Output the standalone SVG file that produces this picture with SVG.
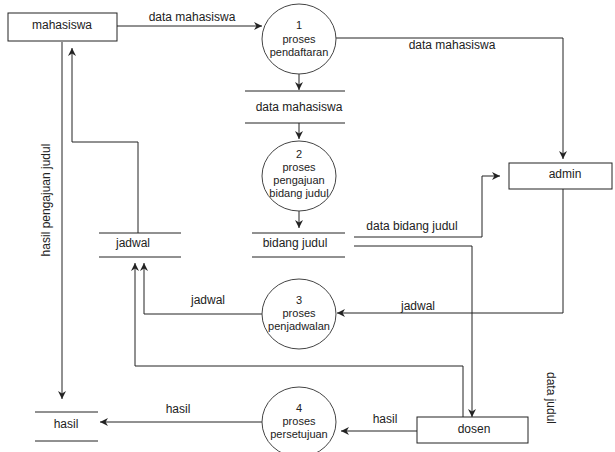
<svg xmlns="http://www.w3.org/2000/svg" width="615" height="452" viewBox="0 0 615 452">
<style>
text{font-family:"Liberation Sans",Arial,sans-serif;font-size:12px;fill:#222;text-anchor:middle}
.pt{font-size:11px}
.ln{fill:none;stroke:#222;stroke-width:1}
.box{fill:#fff;stroke:#222;stroke-width:1}
.proc{fill:#fff;stroke:#444;stroke-width:1}
.st{stroke:#222;stroke-width:1}
</style>
<defs>
<marker id="ah" viewBox="0 0 10 10" refX="10" refY="5" markerWidth="8" markerHeight="8" markerUnits="userSpaceOnUse" orient="auto">
<path d="M0,0 L10,5 L0,10 L3,5 Z" fill="#222"/>
</marker>
</defs>
<rect width="615" height="452" fill="#fff"/>
<g id="connectors">
<path class="ln" d="M117,26 H262" marker-end="url(#ah)"/>
<path class="ln" d="M299,74 V90" marker-end="url(#ah)"/>
<path class="ln" d="M299,123 V139" marker-end="url(#ah)"/>
<path class="ln" d="M299,211 V228" marker-end="url(#ah)"/>
<path class="ln" d="M336,38 H563 V159" marker-end="url(#ah)"/>
<path class="ln" d="M354,237 H482 V176 H500" marker-end="url(#ah)"/>
<path class="ln" d="M354,246 H472 V417" marker-end="url(#ah)"/>
<path class="ln" d="M563,189 V313 H337" marker-end="url(#ah)"/>
<path class="ln" d="M262,314 H144 V263" marker-end="url(#ah)"/>
<path class="ln" d="M463,417 V366 H135 V263" marker-end="url(#ah)"/>
<path class="ln" d="M138,233 V142 H72 V48" marker-end="url(#ah)"/>
<path class="ln" d="M62,42 V399" marker-end="url(#ah)"/>
<path class="ln" d="M417,431 H341" marker-end="url(#ah)"/>
<path class="ln" d="M262,422 H100" marker-end="url(#ah)"/>
<text x="192" y="21">data mahasiswa</text>
<text x="452" y="49">data mahasiswa</text>
<text x="412" y="230">data bidang judul</text>
<text x="418" y="310">jadwal</text>
<text x="208" y="304">jadwal</text>
<text x="178" y="413">hasil</text>
<text x="385" y="423">hasil</text>
<text transform="translate(46,200) rotate(-90)" y="4">hasil pengajuan judul</text>
<text transform="translate(551,398) rotate(90)" y="4">data judul</text>
</g>
<g id="mahasiswa">
<rect class="box" x="8" y="13" width="109" height="28"/>
<text x="62" y="29">mahasiswa</text>
</g>
<g id="admin">
<rect class="box" x="509" y="163" width="103" height="26"/>
<text x="565" y="178">admin</text>
</g>
<g id="dosen">
<rect class="box" x="417" y="417" width="111" height="26"/>
<text x="474" y="433">dosen</text>
</g>
<g id="p1">
<ellipse class="proc" cx="299" cy="39" rx="37" ry="35"/>
<text class="pt" x="299" y="29">1</text>
<text class="pt" x="299" y="43">proses</text>
<text class="pt" x="299" y="56">pendaftaran</text>
</g>
<g id="p2">
<ellipse class="proc" cx="299" cy="176" rx="37" ry="35"/>
<text class="pt" x="299" y="158">2</text>
<text class="pt" x="299" y="171">proses</text>
<text class="pt" x="299" y="184">pengajuan</text>
<text class="pt" x="299" y="197">bidang judul</text>
</g>
<g id="p3">
<ellipse class="proc" cx="299" cy="314" rx="37" ry="35"/>
<text class="pt" x="299" y="304">3</text>
<text class="pt" x="299" y="317">proses</text>
<text class="pt" x="299" y="330">penjadwalan</text>
</g>
<g id="p4">
<ellipse class="proc" cx="299" cy="422" rx="37" ry="35"/>
<text class="pt" x="299" y="412">4</text>
<text class="pt" x="299" y="425">proses</text>
<text class="pt" x="299" y="438">persetujuan</text>
</g>
<g id="ds-data-mahasiswa">
<line class="st" x1="245" y1="91" x2="345" y2="91"/>
<line class="st" x1="245" y1="123" x2="345" y2="123"/>
<text x="299" y="111">data mahasiswa</text>
</g>
<g id="ds-bidang-judul">
<line class="st" x1="252" y1="233" x2="345" y2="233"/>
<line class="st" x1="252" y1="257" x2="345" y2="257"/>
<text x="295" y="247">bidang judul</text>
</g>
<g id="ds-jadwal">
<line class="st" x1="99" y1="233" x2="181" y2="233"/>
<line class="st" x1="99" y1="257" x2="181" y2="257"/>
<text x="133" y="247">jadwal</text>
</g>
<g id="ds-hasil">
<line class="st" x1="35" y1="412" x2="98" y2="412"/>
<line class="st" x1="35" y1="441" x2="98" y2="441"/>
<text x="66" y="428">hasil</text>
</g>
</svg>
